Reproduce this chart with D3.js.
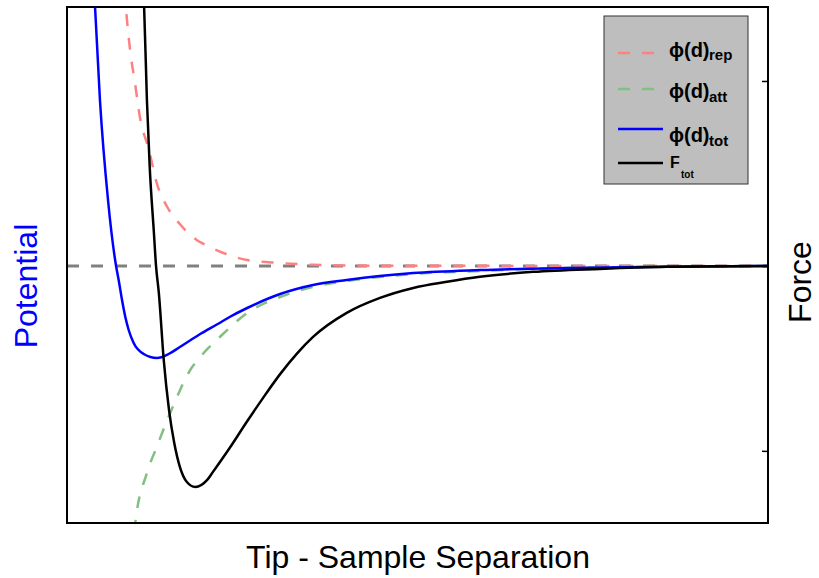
<!DOCTYPE html>
<html>
<head>
<meta charset="utf-8">
<script src="https://cdn.jsdelivr.net/npm/d3@7"></script>
<style>
  body { margin: 0; background: #fff; }
  text { font-family: "Liberation Sans", Arial, sans-serif; }
</style>
</head>
<body>
<svg id="chart" width="819" height="578"></svg>
<script>
// separation values (arbitrary units) and curves
const repX = [8.0, 8.4, 9.0, 9.7, 10.4, 11.7, 12.8, 14.3, 16.1, 18.5, 19.5, 22.3, 25.7, 30.4, 35.1, 39.9, 50, 100]
const repY = [3.0, 2.59, 2.16, 1.83, 1.49, 1.16, 0.83, 0.59, 0.42, 0.26, 0.22, 0.13, 0.06, 0.03, 0.012, 0.005, 0.002, 0]

const attX = [9.3, 9.7, 11.4, 12.8, 14.3, 15.7, 16.8, 17.5, 19.0, 21.8, 25.7, 30.4, 35.1, 39.9, 44.6, 49.4, 58.9, 71.3, 100]
const attY = [-2.9, -2.59, -2.07, -1.81, -1.54, -1.31, -1.14, -1.05, -0.91, -0.71, -0.47, -0.31, -0.21, -0.15, -0.11, -0.08, -0.05, -0.02, 0]

const totX = [3.6, 4.0, 4.7, 5.85, 7.0, 7.37, 7.85, 8.32, 8.8, 9.51, 10.94, 12.84, 14.5, 16.1, 19.0, 21.5, 23.2, 25.7, 30.4, 35.1, 39.9, 44.6, 49.4, 58.9, 71.3, 85, 100]
const totY = [3.2, 2.59, 1.66, 0.66, 0, -0.14, -0.34, -0.51, -0.64, -0.77, -0.88, -0.92, -0.88, -0.81, -0.68, -0.58, -0.51, -0.42, -0.28, -0.19, -0.14, -0.10, -0.07, -0.04, -0.02, -0.008, 0]

const forceX = [10.7, 11.0, 11.4, 11.8, 12.4, 12.7, 13.1, 13.8, 14.55, 15.3, 16.1, 17.1, 18.3, 20.0, 20.8, 23.25, 25.7, 28.0, 30.4, 32.8, 35.1, 39.9, 44.65, 49.4, 54.2, 58.9, 66.5, 76.0, 85.6, 100]
const forceY = [1.6, 1.40, 0.897, 0.535, 0.178, 0, -0.146, -0.508, -0.778, -0.957, -1.086, -1.168, -1.195, -1.157, -1.115, -0.982, -0.840, -0.712, -0.585, -0.474, -0.384, -0.254, -0.173, -0.119, -0.086, -0.059, -0.032, -0.016, -0.005, 0]

const forceTicks = [-1, 0, 1]

const legendLabels = ["rep", "att", "tot", "tot"]
const legendMain = ["\u03d5(d)", "\u03d5(d)", "\u03d5(d)", "F"]

const svg = d3.select("#chart")

const margin = { top: 7, left: 67, bottom: 55, right: 51 }
const width = 819, height = 578

const x = d3.scaleLinear().domain([0, 100]).range([margin.left, width - margin.right])
const y = d3.scaleLinear().domain([-2.57, 2.59]).range([height - margin.bottom, margin.top])
const yF = d3.scaleLinear().domain([-1.39, 1.40]).range([height - margin.bottom, margin.top])

svg.append("defs").append("clipPath").attr("id", "clip")
    .append("rect")
    .attr("x", x(0)).attr("y", y(2.59))
    .attr("width", x(100) - x(0)).attr("height", y(-2.57) - y(2.59))

const plot = svg.append("g").attr("clip-path", "url(#clip)")

// zero line
plot.append("line")
    .attr("x1", x(0)).attr("x2", x(100))
    .attr("y1", y(0)).attr("y2", y(0))
    .attr("stroke", "#808080")
    .attr("stroke-width", 3)
    .attr("stroke-dasharray", "12,12")

function curve(xs, ys, scale) {
    return d3.line()
        .x((d, i) => x(xs[i]))
        .y(d => scale(d))
        .curve(d3.curveMonotoneX)(ys)
}

const series = [
    { xs: repX, ys: repY, scale: y, color: "#ff8080", dash: "12,12" },
    { xs: attX, ys: attY, scale: y, color: "#80c080", dash: "12,12" },
    { xs: totX, ys: totY, scale: y, color: "#0000ff", dash: null },
    { xs: forceX, ys: forceY, scale: yF, color: "#000000", dash: null }
]

series.forEach(s => {
    plot.append("path")
        .attr("d", curve(s.xs, s.ys, s.scale))
        .attr("fill", "none")
        .attr("stroke", s.color)
        .attr("stroke-width", 2.5)
        .attr("stroke-dasharray", s.dash)
})

// box
svg.append("rect")
    .attr("x", x(0)).attr("y", y(2.59))
    .attr("width", x(100) - x(0)).attr("height", y(-2.57) - y(2.59))
    .attr("fill", "none")
    .attr("stroke", "#000")
    .attr("stroke-width", 2)

// right (force) axis, ticks only
const axisR = svg.append("g")
    .attr("transform", "translate(" + x(100) + ",0)")
    .call(d3.axisRight(yF).tickValues(forceTicks).tickSize(-6).tickFormat(""))
axisR.select(".domain").remove()
axisR.selectAll("line").attr("stroke", "#000").attr("stroke-width", 1.5)

// legend
const lg = svg.append("g")
lg.append("rect")
    .attr("x", 604).attr("y", 16).attr("width", 144).attr("height", 168)
    .attr("fill", "#bebebe").attr("stroke", "#333").attr("stroke-width", 1)

const rowY = [53, 89, 129, 163]
const mainBase = [57, 98, 142, 168]
const subBase = [60, 102, 146, 178]

series.forEach((s, i) => {
    lg.append("line")
        .attr("x1", 618).attr("x2", 663)
        .attr("y1", rowY[i]).attr("y2", rowY[i])
        .attr("stroke", s.color)
        .attr("stroke-width", 2.5)
        .attr("stroke-dasharray", s.dash)
    const isF = i === 3
    lg.append("text")
        .attr("x", isF ? 670 : 669)
        .attr("y", mainBase[i])
        .attr("font-weight", "bold")
        .attr("font-size", isF ? 16 : 20)
        .text(legendMain[i])
    lg.append("text")
        .attr("x", isF ? 681 : 709)
        .attr("y", subBase[i])
        .attr("font-weight", "bold")
        .attr("font-size", isF ? 10 : 15)
        .text(legendLabels[i])
})

// axis titles
svg.append("text")
    .attr("x", 418).attr("y", 568)
    .attr("text-anchor", "middle")
    .attr("font-size", 32)
    .text("Tip - Sample Separation")

svg.append("text")
    .attr("transform", "translate(37,286) rotate(-90)")
    .attr("text-anchor", "middle")
    .attr("font-size", 32)
    .attr("fill", "#0000ff")
    .text("Potential")

svg.append("text")
    .attr("transform", "translate(811,282) rotate(-90)")
    .attr("text-anchor", "middle")
    .attr("font-size", 32)
    .text("Force")
</script>
</body>
</html>
